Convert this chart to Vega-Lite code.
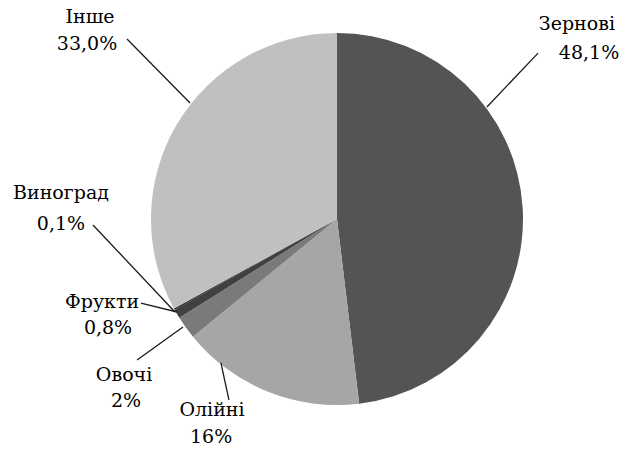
{
  "$schema": "https://vega.github.io/schema/vega-lite/v6.json",
  "width": 578,
  "height": 438,
  "autosize": "none",
  "padding": {"left": 48, "top": 0, "right": 0, "bottom": 11},
  "background": "white",
  "config": {"view": {"stroke": null}},
  "layer": [
    {
      "data": {"values": [
        {"cat": "Зернові", "share": 48.1, "ord": 1},
        {"cat": "Олійні", "share": 16, "ord": 2},
        {"cat": "Овочі", "share": 2, "ord": 3},
        {"cat": "Фрукти", "share": 0.8, "ord": 4},
        {"cat": "Виноград", "share": 0.1, "ord": 5},
        {"cat": "Інше", "share": 33.0, "ord": 6}
      ]},
      "mark": {"type": "arc", "outerRadius": 186},
      "encoding": {
        "theta": {"field": "share", "type": "quantitative", "stack": true},
        "order": {"field": "ord", "type": "quantitative"},
        "color": {
          "field": "cat", "type": "nominal", "legend": null,
          "scale": {
            "domain": ["Зернові", "Олійні", "Овочі", "Фрукти", "Виноград", "Інше"],
            "range": ["#545454", "#a6a6a6", "#7a7a7a", "#404040", "#262626", "#c0c0c0"]
          }
        }
      }
    },
    {
      "data": {"values": [
        {"cat": "Зернові", "x": 108.1, "y": 89.2, "x2": 80.6, "y2": 60.2},
        {"cat": "Інше", "x": -112.9, "y": 96.8, "x2": -79.0, "y2": 62.4},
        {"cat": "Виноград", "x": -131.2, "y": -3.2, "x2": -87.1, "y2": -50.0},
        {"cat": "Фрукти", "x": -105.4, "y": -45.2, "x2": -86.0, "y2": -50.0},
        {"cat": "Овочі", "x": -107.5, "y": -75.8, "x2": -82.8, "y2": -58.1},
        {"cat": "Олійні", "x": -58.1, "y": -97.3, "x2": -62.4, "y2": -77.4}
      ]},
      "mark": {"type": "rule", "color": "#1a1a1a", "strokeWidth": 1.3},
      "encoding": {
        "x": {"field": "x", "type": "quantitative", "axis": null, "scale": {"domain": [-155.38, 155.38], "nice": false, "zero": false}},
        "y": {"field": "y", "type": "quantitative", "axis": null, "scale": {"domain": [-117.74, 117.74], "nice": false, "zero": false}},
        "x2": {"field": "x2"},
        "y2": {"field": "y2"}
      }
    },
    {
      "data": {"values": [
        {"t": "Зернові", "x": 129.0, "y": 104.8},
        {"t": "48,1%", "x": 135.5, "y": 89.2},
        {"t": "Інше", "x": -132.8, "y": 108.6},
        {"t": "33,0%", "x": -134.4, "y": 94.1},
        {"t": "Виноград", "x": -148.4, "y": 14.0},
        {"t": "0,1%", "x": -148.4, "y": -2.7},
        {"t": "Фрукти", "x": -126.3, "y": -44.6},
        {"t": "0,8%", "x": -123.1, "y": -58.6},
        {"t": "Овочі", "x": -114.5, "y": -83.9},
        {"t": "2%", "x": -113.4, "y": -97.8},
        {"t": "Олійні", "x": -67.2, "y": -102.7},
        {"t": "16%", "x": -67.7, "y": -117.2}
      ]},
      "mark": {"type": "text", "font": "DejaVu Serif", "fontSize": 19, "baseline": "middle", "align": "center", "color": "black"},
      "encoding": {
        "x": {"field": "x", "type": "quantitative", "axis": null, "scale": {"domain": [-155.38, 155.38], "nice": false, "zero": false}},
        "y": {"field": "y", "type": "quantitative", "axis": null, "scale": {"domain": [-117.74, 117.74], "nice": false, "zero": false}},
        "text": {"field": "t", "type": "nominal"}
      }
    }
  ]
}
